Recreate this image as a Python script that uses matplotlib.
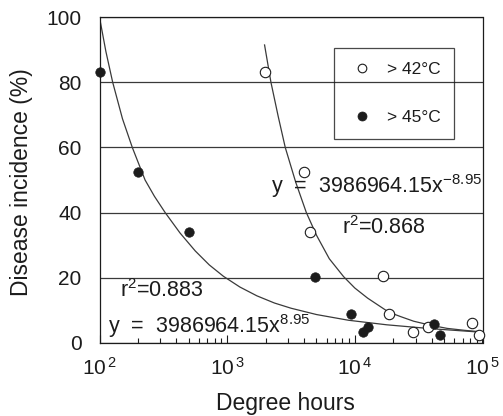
import matplotlib
matplotlib.use("Agg")
import matplotlib.pyplot as plt
from matplotlib.ticker import FixedLocator, FixedFormatter, LogLocator, NullFormatter

plt.rcParams['font.family'] = ['Liberation Sans', 'DejaVu Sans']
plt.rcParams['mathtext.fontset'] = 'custom'
plt.rcParams['mathtext.rm'] = 'Liberation Sans'
plt.rcParams['mathtext.it'] = 'Liberation Sans:italic'
plt.rcParams['mathtext.bf'] = 'Liberation Sans:bold'

# ---- data ----
# > 45 °C (filled circles)
x45 = [100, 201, 498, 4900, 9340, 11600, 12600, 41500, 46200]
y45 = [83.1, 52.4, 34.1, 20.3, 8.8, 3.4, 4.7, 5.7, 2.4]
# > 42 °C (open circles)
x42 = [1987, 3965, 4420, 16600, 18400, 28600, 37200, 83000, 93500]
y42 = [83.1, 52.5, 33.9, 20.5, 8.8, 3.4, 4.7, 5.96, 2.4]

# fitted curves
fit45_x = [100, 112.2, 126.9, 151.4, 180.7, 227.5, 269.2, 326.6, 427.6, 562.3, 724.4,
           935.4, 1259, 1710, 2344, 3162, 5012, 8913, 17783, 39811, 100000]
fit45_y = [100, 89.5, 80, 68.8, 60, 50, 45, 40, 33.7, 28.2, 23.9,
           20.4, 17.1, 14.4, 12.2, 10.6, 8.65, 6.9, 5.5, 4.3, 3.2]
fit42_x = [1963, 2203, 2512, 2851, 3444, 4169, 5012, 6310, 8166, 10000, 12589,
           18408, 22909, 28907, 38905, 52845, 72444, 100000]
fit42_y = [91.5, 80, 69.5, 60, 49.3, 40, 33.0, 25.8, 20.3, 16.8, 13.7,
           9.4, 8.0, 6.6, 5.4, 4.4, 3.8, 3.3]

xticks = [1e2, 1e3, 1e4, 1e5]
xticklabels = [r'$\mathrm{10^{\,2}}$', r'$\mathrm{10^{\,3}}$', r'$\mathrm{10^{\,4}}$', r'$\mathrm{10^{\,5}}$']
yticks = [0, 20, 40, 60, 80, 100]

ink = '#1c1c1c'
line_c = '#3a3a3a'

fig = plt.figure(figsize=(5.03, 4.16), dpi=100)
ax = fig.add_axes([99.5/503, 1 - 342.7/416, 383/503, 325.4/416])

ax.set_xscale('log')
ax.set_xlim(1e2, 1e5)
ax.set_ylim(0, 100)

ax.plot(fit45_x, fit45_y, color=line_c, lw=0.9, zorder=2)
ax.plot(fit42_x, fit42_y, color=line_c, lw=0.9, zorder=2)

h42, = ax.plot(x42, y42, 'o', ms=7.5, mfc='white', mec=ink, mew=0.8,
               linestyle='none', label='> 42°C', zorder=3, clip_on=False)
h45, = ax.plot(x45, y45, 'o', ms=6.8, mfc=ink, mec=ink, mew=0.5,
               linestyle='none', label='> 45°C', zorder=4, clip_on=False)

# axes styling
for s in ax.spines.values():
    s.set_color(ink)
    s.set_linewidth(0.9)

ax.xaxis.set_major_locator(FixedLocator(xticks))
ax.xaxis.set_major_formatter(FixedFormatter(xticklabels))
ax.xaxis.set_minor_locator(LogLocator(base=10, subs=[2, 3, 4, 5, 6, 7, 8, 9]))
ax.xaxis.set_minor_formatter(NullFormatter())
ax.tick_params(axis='x', which='major', direction='in', length=6, width=0.8,
               color=ink, labelsize=15, labelcolor=ink, pad=10.5)
ax.tick_params(axis='x', which='minor', direction='in', length=3.5, width=0.8, color=ink)

ax.set_yticks(yticks)
ax.tick_params(axis='y', which='both', length=0, labelsize=15, labelcolor=ink, pad=13)
ax.yaxis.grid(True, color=line_c, lw=0.9)
ax.set_axisbelow(True)

ax.set_xlabel('Degree hours', fontsize=16.5, color=ink, va='baseline')
ax.xaxis.set_label_coords(0.486, -0.207)
ax.set_ylabel('Disease incidence (%)', fontsize=16.5, color=ink, va='center')
ax.yaxis.set_label_coords(-0.203, 0.494)

# equations
ax.text(0.447, 0.459, r'y  =  3986964.15x$^{-8.95}$', transform=ax.transAxes,
        fontsize=15.5, color=ink, va='baseline', ha='left')
ax.text(0.632, 0.334, r'r$^{2}$=0.868', transform=ax.transAxes,
        fontsize=15.5, color=ink, va='baseline', ha='left')
ax.text(0.0535, 0.141, r'r$^{2}$=0.883', transform=ax.transAxes,
        fontsize=15.5, color=ink, va='baseline', ha='left')
ax.text(0.023, 0.029, r'y  =  3986964.15x$^{8.95}$', transform=ax.transAxes,
        fontsize=15.5, color=ink, va='baseline', ha='left')

leg = ax.legend(handles=[h42, h45], loc='upper left', bbox_to_anchor=(0.613, 0.9066),
                borderaxespad=0, fontsize=12.5, frameon=True, fancybox=False,
                edgecolor=ink, facecolor='none', framealpha=None,
                borderpad=0.8, labelspacing=1.9, handlelength=1.55, handletextpad=0.66)
leg.get_frame().set_linewidth(0.9)
for t in leg.get_texts():
    t.set_color(ink)
lh = leg.legend_handles
lh[0].set_markersize(6.2)
lh[1].set_markersize(6.5)

fig.savefig('out.png', dpi=100)
